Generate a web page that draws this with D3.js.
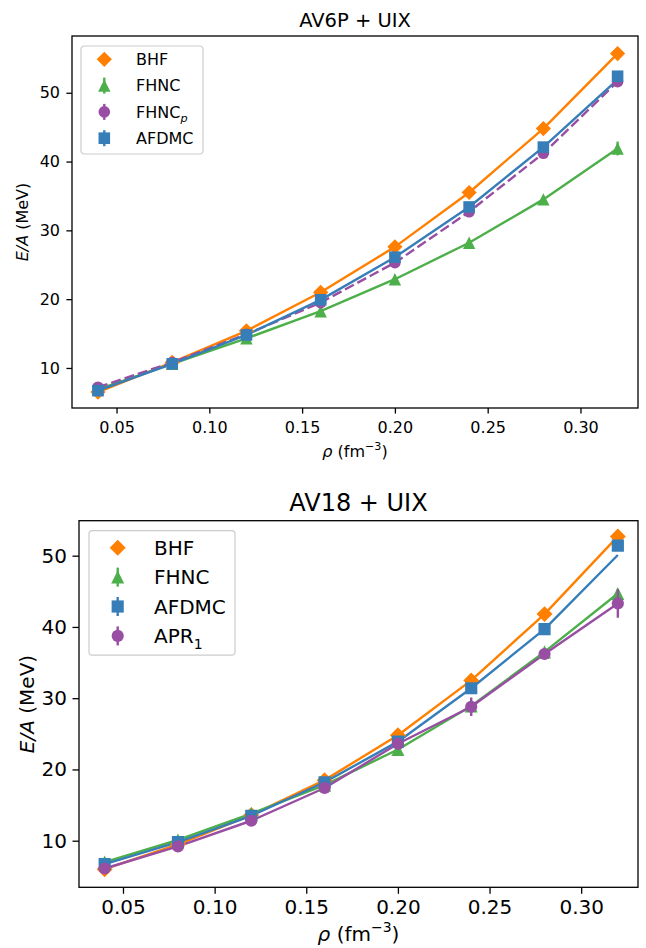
<!DOCTYPE html>
<html>
<head>
<meta charset="utf-8">
<script src="https://cdn.jsdelivr.net/npm/d3@7"></script>
<style>
  html, body { margin: 0; padding: 0; background: #ffffff; }
  svg { display: block; font-family: "DejaVu Sans", sans-serif; }
</style>
</head>
<body>
<script>
// ---------------- DATA ----------------
const rho = [0.04, 0.08, 0.12, 0.16, 0.20, 0.24, 0.28, 0.32];
const xTicks = [0.05, 0.10, 0.15, 0.20, 0.25, 0.30];
const yTicks = [10, 20, 30, 40, 50];

// AV6P + UIX
const av6pBHF    = [6.5, 10.8, 15.4, 21.0, 27.6, 35.5, 44.8, 55.7];
const av6pFHNC   = [6.9, 10.6, 14.3, 18.25, 22.9, 28.2, 34.5, 41.9];
const av6pFHNCErr= [0, 0, 0, 0, 0, 0, 0, 1.0];
const av6pFHNCp  = [7.2, 10.8, 14.9, 19.5, 25.3, 32.7, 41.2, 51.6];
const av6pAFDMC  = [6.7, 10.6, 14.8, 19.9, 26.1, 33.4, 42.1, 52.4];
const av6pAFDMCLine = [6.7, 10.6, 14.8, 19.9, 26.1, 33.4, 42.1, 51.9];

// AV18 + UIX
const av18BHF    = [6.0, 9.5, 13.6, 18.5, 24.8, 32.5, 41.8, 52.7];
const av18FHNC   = [7.0, 10.1, 13.8, 17.8, 22.8, 28.9, 36.5, 44.7];
const av18FHNCErr= [0, 0, 0, 0, 0, 0, 0, 0.6];
const av18AFDMC  = [6.7, 9.8, 13.5, 18.2, 23.9, 31.4, 39.7, 51.4];
const av18AFDMCLine = [6.7, 9.8, 13.5, 18.2, 23.9, 31.4, 39.7, 50.1];
const av18APR    = [6.1, 9.2, 12.8, 17.4, 23.6, 28.8, 36.2, 43.3];
const av18APRErr = [0, 0, 0, 0, 0.3, 1.3, 0.5, 2.0];

const xLimits = [0.026, 0.331];
const av6pYLimits = [4.18, 58.25];
const av18YLimits = [3.46, 54.91];

// ---------------- STYLE ----------------
const C = { orange: "#ff7f00", green: "#4daf4a", blue: "#377eb8", purple: "#984ea3" };

const panels = [
  {
    title: "AV6P + UIX",
    box: { left: 72, right: 638, top: 36, bottom: 408 },
    yLim: av6pYLimits,
    font: 16, titleFont: 19.5, titleY: 27.3,
    tickLen: 5.6, xPad: 8.1, yPad: 6.4,
    xlabelY: 457, ylabelX: 22,
    msz: 1.0,
    legend: { x: 81, y: 46, w: 122, h: 108, mx: 104.3, tx: 136, y0: 59.3, step: 26.3, bar: 8 },
    series: [
      { name: ["BHF"], marker: "D", color: C.orange, y: av6pBHF, line: av6pBHF },
      { name: ["FHNC"], marker: "^", color: C.green, y: av6pFHNC, line: av6pFHNC, err: av6pFHNCErr },
      { name: ["FHNC", "p", "italic"], marker: "o", color: C.purple, y: av6pFHNCp, line: av6pFHNCp, dash: "10,4" },
      { name: ["AFDMC"], marker: "s", color: C.blue, y: av6pAFDMC, line: av6pAFDMCLine }
    ]
  },
  {
    title: "AV18 + UIX",
    box: { left: 79, right: 638, top: 520.7, bottom: 887.3 },
    yLim: av18YLimits,
    font: 20, titleFont: 24, titleY: 510.7,
    tickLen: 6.5, xPad: 6.2, yPad: 5.5,
    xlabelY: 941, ylabelX: 27,
    msz: 1.05,
    legend: { x: 89, y: 530.7, w: 146, h: 124.5, mx: 117.7, tx: 154, y0: 547.7, step: 29.4, bar: 9.5 },
    series: [
      { name: ["BHF"], marker: "D", color: C.orange, y: av18BHF, line: av18BHF },
      { name: ["FHNC"], marker: "^", color: C.green, y: av18FHNC, line: av18FHNC, err: av18FHNCErr },
      { name: ["AFDMC"], marker: "s", color: C.blue, y: av18AFDMC, line: av18AFDMCLine },
      { name: ["APR", "1", "normal"], marker: "o", color: C.purple, y: av18APR, line: av18APR, err: av18APRErr }
    ]
  }
];

function markerPath(type, k) {
  if (type === "D") { const s = 7.6 * k; return `M0,${-s}L${s},0L0,${s}L${-s},0Z`; }
  if (type === "s") { const s = 5.8 * k; return `M${-s},${-s}H${s}V${s}H${-s}Z`; }
  if (type === "^") { const s = 6.2 * k; return `M0,${-s}L${s},${s}L${-s},${s}Z`; }
  const r = 5.8 * k;
  return `M${r},0A${r},${r} 0 1,1 ${-r},0A${r},${r} 0 1,1 ${r},0Z`;
}

const svg = d3.select("body").append("svg").attr("width", 646).attr("height", 948);

panels.forEach(p => {
  const b = p.box;
  const x = d3.scaleLinear().domain(xLimits).range([b.left, b.right]);
  const y = d3.scaleLinear().domain(p.yLim).range([b.bottom, b.top]);
  const g = svg.append("g");

  // axes
  const xAxis = d3.axisBottom(x).tickValues(xTicks).tickFormat(d3.format(".2f"))
    .tickSize(p.tickLen).tickPadding(p.xPad);
  const yAxis = d3.axisLeft(y).tickValues(yTicks).tickFormat(d3.format("d"))
    .tickSize(p.tickLen).tickPadding(p.yPad);
  const gx = g.append("g").attr("transform", `translate(0,${b.bottom})`).call(xAxis);
  const gy = g.append("g").attr("transform", `translate(${b.left},0)`).call(yAxis);
  [gx, gy].forEach(a => {
    a.select(".domain").remove();
    a.selectAll("line").attr("stroke", "#000").attr("stroke-width", 1.3);
    a.selectAll("text").attr("fill", "#000").style("font-size", p.font + "px")
      .style("font-family", "'DejaVu Sans', sans-serif");
  });

  // clip
  const clipId = "clip" + Math.round(b.top);
  svg.append("clipPath").attr("id", clipId).append("rect")
    .attr("x", b.left).attr("y", b.top).attr("width", b.right - b.left).attr("height", b.bottom - b.top);
  const plot = g.append("g").attr("clip-path", `url(#${clipId})`);

  // lines
  p.series.forEach(s => {
    const line = d3.line().x((d, i) => x(rho[i])).y(d => y(d));
    plot.append("path").datum(s.line).attr("d", line)
      .attr("fill", "none").attr("stroke", s.color).attr("stroke-width", 2.4)
      .attr("stroke-linejoin", "round")
      .attr("stroke-dasharray", s.dash || null);
  });
  // error bars + markers
  p.series.forEach(s => {
    if (s.err) {
      plot.selectAll(null).data(s.y.map((v, i) => ({ v, e: s.err[i], i })).filter(d => d.e > 0))
        .enter().append("line")
        .attr("x1", d => x(rho[d.i])).attr("x2", d => x(rho[d.i]))
        .attr("y1", d => y(d.v - d.e)).attr("y2", d => y(d.v + d.e))
        .attr("stroke", s.color).attr("stroke-width", 2.4);
    }
    plot.selectAll(null).data(s.y).enter().append("path")
      .attr("d", markerPath(s.marker, p.msz))
      .attr("transform", (d, i) => `translate(${x(rho[i])},${y(d)})`)
      .attr("fill", s.color);
  });

  // frame
  g.append("rect").attr("x", b.left).attr("y", b.top)
    .attr("width", b.right - b.left).attr("height", b.bottom - b.top)
    .attr("fill", "none").attr("stroke", "#000").attr("stroke-width", 1.3);

  // title
  g.append("text").attr("x", (b.left + b.right) / 2).attr("y", p.titleY)
    .attr("text-anchor", "middle").style("font-size", p.titleFont + "px").text(p.title);

  // x label
  const xl = g.append("text").attr("x", (b.left + b.right) / 2).attr("y", p.xlabelY)
    .attr("text-anchor", "middle").style("font-size", p.font + "px");
  xl.append("tspan").style("font-style", "italic").text("ρ");
  xl.append("tspan").text(" (fm");
  xl.append("tspan").attr("dy", -0.45 * p.font).style("font-size", (p.font * 0.7) + "px").text("−3");
  xl.append("tspan").attr("dy", 0.45 * p.font).text(")");

  // y label
  const yl = g.append("text")
    .attr("transform", `translate(${p.ylabelX},${(b.top + b.bottom) / 2}) rotate(-90)`)
    .attr("text-anchor", "middle").attr("dy", "0.35em").style("font-size", p.font + "px");
  yl.append("tspan").style("font-style", "italic").text("E/A");
  yl.append("tspan").text(" (MeV)");

  // legend
  const L = p.legend;
  g.append("rect").attr("x", L.x).attr("y", L.y).attr("width", L.w).attr("height", L.h)
    .attr("rx", 3.5).attr("fill", "#fff").attr("fill-opacity", 0.8)
    .attr("stroke", "#cccccc").attr("stroke-width", 1.2);
  p.series.forEach((s, i) => {
    const cy = L.y0 + i * L.step;
    if (s.marker !== "D") {
      g.append("line").attr("x1", L.mx).attr("x2", L.mx).attr("y1", cy - L.bar).attr("y2", cy + L.bar)
        .attr("stroke", s.color).attr("stroke-width", 2.4);
    }
    g.append("path").attr("d", markerPath(s.marker, p.msz))
      .attr("transform", `translate(${L.mx},${cy})`).attr("fill", s.color);
    const t = g.append("text").attr("x", L.tx).attr("y", cy).attr("dy", "0.36em")
      .style("font-size", p.font + "px");
    t.append("tspan").text(s.name[0]);
    if (s.name[1]) {
      t.append("tspan").attr("dy", 0.3 * p.font).style("font-size", (p.font * 0.7) + "px")
        .style("font-style", s.name[2]).text(s.name[1]);
    }
  });
});
</script>
</body>
</html>
